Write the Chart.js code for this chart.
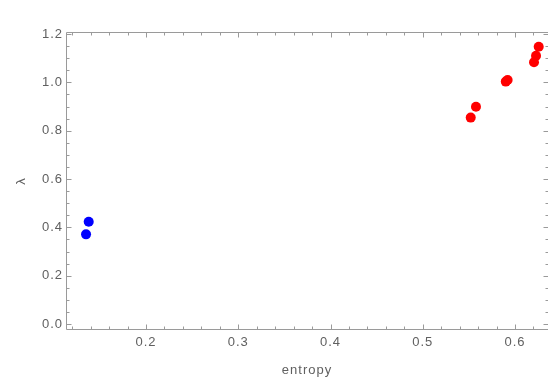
<!DOCTYPE html>
<html>
<head>
<meta charset="utf-8">
<script src="https://cdn.jsdelivr.net/npm/chart.js@4/dist/chart.umd.min.js"></script>
<style>
  html, body { margin: 0; padding: 0; background: #ffffff; overflow: hidden; }
  #wrap { width: 548px; height: 378px; position: relative; }
</style>
</head>
<body>
<div id="wrap"><canvas id="c"></canvas></div>
<script>
// Cluster A (low entropy)
const blueEntropy = [0.1379, 0.1350];
const blueLambda  = [0.423, 0.371];
// Cluster B (high entropy)
const redEntropy = [0.552, 0.5577, 0.590, 0.592, 0.6206, 0.6228, 0.6257];
const redLambda  = [0.854, 0.899, 1.003, 1.010, 1.083, 1.110, 1.147];

// Axis ticks
const xTickValues = [0.2, 0.3, 0.4, 0.5, 0.6];
const yTickValues = [0.0, 0.2, 0.4, 0.6, 0.8, 1.0, 1.2];
const xMinorStep = 0.02;
const yMinorStep = 0.05;

const toPoints = (xs, ys) => xs.map((x, i) => ({ x: x, y: ys[i] }));

const FRAME = '#9a9a9a';
const TEXT = '#606060';
const FONT = "'Liberation Sans', Arial, sans-serif";

// Slightly tracked text for all labels
const spacingPlugin = {
  id: 'spacing',
  beforeLayout(chart) { chart.ctx.letterSpacing = '1px'; },
  beforeDraw(chart) { chart.ctx.letterSpacing = '1px'; }
};

// Frame with inward ticks on all four sides (right edge sits just past the canvas)
const framePlugin = {
  id: 'frame',
  beforeDatasetsDraw(chart) {
    const { ctx, chartArea: a, scales } = chart;
    const xs = scales.x, ys = scales.y;
    const L = Math.round(a.left) + 0.5, R = Math.round(a.right) + 0.5;
    const T = Math.round(a.top) + 0.5, B = Math.round(a.bottom) - 0.5;
    ctx.save();
    ctx.strokeStyle = FRAME;
    ctx.lineWidth = 1;
    ctx.beginPath();
    ctx.rect(L, T, R - L, B - T);
    ctx.stroke();

    const major = 5, minor = 3;
    const isMajor = (v, list) => list.some(m => Math.abs(m - v) < 1e-6);
    ctx.beginPath();
    // x ticks (bottom and top)
    const x0 = Math.ceil(xs.min / xMinorStep - 1e-9);
    const x1 = Math.floor(xs.max / xMinorStep + 1e-9);
    for (let k = x0; k <= x1; k++) {
      const v = +(k * xMinorStep).toFixed(4);
      const len = isMajor(v, xTickValues) ? major : minor;
      const px = Math.round(xs.getPixelForValue(v)) + 0.5;
      ctx.moveTo(px, B); ctx.lineTo(px, B - len);
      ctx.moveTo(px, T); ctx.lineTo(px, T + len);
    }
    // y ticks (left and right)
    const y0 = Math.ceil(ys.min / yMinorStep - 1e-9);
    const y1 = Math.floor(ys.max / yMinorStep + 1e-9);
    for (let k = y0; k <= y1; k++) {
      const v = +(k * yMinorStep).toFixed(4);
      const len = isMajor(v, yTickValues) ? major : minor;
      const py = Math.round(ys.getPixelForValue(v)) + 0.5;
      ctx.moveTo(L, py); ctx.lineTo(L + len, py);
      ctx.moveTo(R, py); ctx.lineTo(R - len, py);
    }
    ctx.stroke();
    ctx.restore();
  }
};

new Chart(document.getElementById('c'), {
  type: 'scatter',
  data: {
    datasets: [
      {
        data: toPoints(blueEntropy, blueLambda),
        backgroundColor: '#0000ff',
        borderColor: '#0000ff',
        pointRadius: 5,
        pointBorderWidth: 0
      },
      {
        data: toPoints(redEntropy, redLambda),
        backgroundColor: '#ff0000',
        borderColor: '#ff0000',
        pointRadius: 5,
        pointBorderWidth: 0
      }
    ]
  },
  options: {
    responsive: true,
    maintainAspectRatio: false,
    animation: false,
    layout: { autoPadding: false, padding: { left: 14, top: 32, right: 0, bottom: 0 } },
    plugins: {
      legend: { display: false },
      tooltip: { enabled: false }
    },
    scales: {
      x: {
        type: 'linear',
        min: 0.11328,
        max: 0.63577,
        grid: { display: false, drawTicks: false },
        border: { display: false },
        afterBuildTicks(scale) { scale.ticks = xTickValues.map(v => ({ value: v })); },
        afterFit(scale) {
          scale.height = 48;
          scale.paddingLeft = 0;
          scale.paddingRight = 0;
        },
        ticks: {
          color: TEXT,
          padding: 5,
          maxRotation: 0,
          font: { family: FONT, size: 13 },
          callback: v => Number(v).toFixed(1)
        },
        title: {
          display: true,
          text: 'entropy',
          color: TEXT,
          padding: { top: 0, bottom: 0 },
          font: { family: FONT, size: 13, lineHeight: 1.2 }
        }
      },
      y: {
        type: 'linear',
        min: -0.0248,
        max: 1.2083,
        grid: { display: false, drawTicks: false },
        border: { display: false },
        afterBuildTicks(scale) { scale.ticks = yTickValues.map(v => ({ value: v })); },
        afterFit(scale) {
          scale.width = 52;
          scale.paddingTop = 0;
          scale.paddingBottom = 0;
        },
        ticks: {
          color: TEXT,
          padding: 3,
          font: { family: FONT, size: 13 },
          callback: v => Number(v).toFixed(1)
        },
        title: {
          display: true,
          text: 'λ',
          color: TEXT,
          padding: { top: 0, bottom: 0 },
          font: { family: FONT, size: 13, lineHeight: 1.1 }
        }
      }
    }
  },
  plugins: [spacingPlugin, framePlugin]
});
</script>
</body>
</html>
